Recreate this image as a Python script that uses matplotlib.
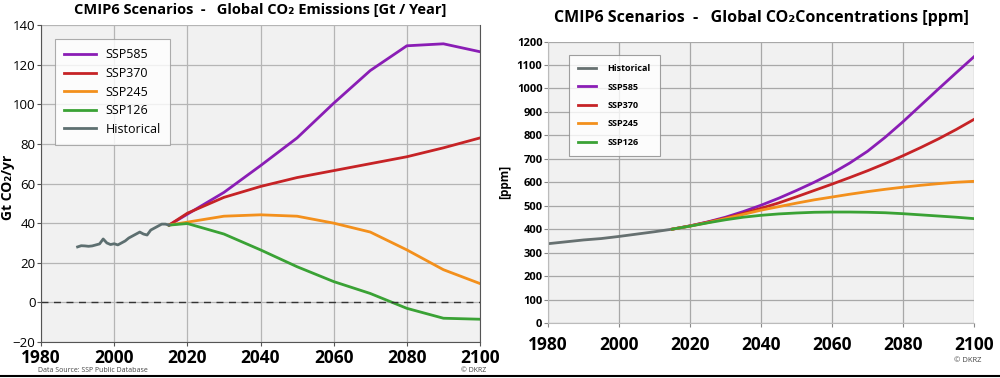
import numpy as np
import matplotlib.pyplot as plt
from matplotlib.lines import Line2D

plt.rcParams['font.family'] = ['Open Sans', 'DejaVu Sans']

# emissions [Gt CO2 / yr]
hist_years = np.arange(1990, 2016)
hist_emis = [28.0, 28.6, 28.5, 28.3, 28.5, 29.0, 29.5, 32.0, 30.0, 29.2,
             29.6, 29.0, 30.0, 31.0, 32.5, 33.5, 34.5, 35.5, 34.5, 34.0,
             36.5, 37.5, 38.5, 39.5, 39.5, 39.0]
scen_years = [2015, 2020, 2030, 2040, 2050, 2060, 2070, 2080, 2090, 2100]
emis_585 = [39, 44.5, 55.5, 69, 83, 100.5, 117, 129.5, 130.5, 126.5]
emis_370 = [39, 45, 53, 58.5, 63, 66.5, 70, 73.5, 78, 83]
emis_245 = [39, 40.5, 43.5, 44.2, 43.5, 40, 35.5, 26.5, 16.5, 9.5]
emis_126 = [39, 39.8, 34.5, 26.5, 18, 10.5, 4.5, -3, -8, -8.5]

# concentrations [ppm]
hist_c_years = [1980, 1985, 1990, 1995, 2000, 2005, 2010, 2015]
hist_conc = [338, 346, 354, 360, 369, 379, 389, 400]
conc_years = [2015, 2020, 2025, 2030, 2035, 2040, 2045, 2050, 2055, 2060,
              2065, 2070, 2075, 2080, 2085, 2090, 2095, 2100]
conc_585 = [400, 414, 431, 451, 475, 502, 532, 565, 600, 638,
            682, 732, 792, 858, 928, 998, 1067, 1135]
conc_370 = [400, 414, 430, 447, 467, 489, 512, 538, 565, 592,
            620, 649, 680, 713, 748, 785, 825, 868]
conc_245 = [400, 413, 428, 445, 463, 481, 496, 511, 525, 537,
            549, 560, 570, 579, 587, 594, 600, 604]
conc_126 = [400, 413, 427, 440, 451, 459, 465, 469, 472, 473,
            473, 472, 470, 466, 461, 456, 451, 445]

names = ['SSP585', 'SSP370', 'SSP245', 'SSP126']
colors = ['#8a1db5', '#c62326', '#f3901c', '#3aa235']

fig = plt.figure(figsize=(10, 3.78), dpi=100)

# ---------------- left panel: emissions
ax1 = fig.add_axes([0.041, 0.0952, 0.439, 0.8387])
ax1.set_facecolor('#f1f1f1')
for name, ys, c in zip(names, [emis_585, emis_370, emis_245, emis_126], colors):
    ax1.plot(scen_years, ys, color=c, lw=2, label=name)
ax1.plot(hist_years, hist_emis, color='#5d6f70', lw=2, label='Historical')
ax1.axhline(0, color='#333333', lw=1, ls=(0, (5, 4)))
ax1.set_xlim(1980, 2100)
ax1.set_ylim(-20, 140)
ax1.set_xticks(range(1980, 2101, 20))
ax1.set_yticks(range(-20, 141, 20))
ax1.grid(True, color='#b5b5b5', lw=0.9)
ax1.set_axisbelow(True)
ax1.spines['top'].set_visible(False)
for s in ['left', 'bottom', 'right']:
    ax1.spines[s].set_color('#555555')
ax1.tick_params(axis='x', labelsize=12.5, length=3, color='#555555', pad=2)
ax1.tick_params(axis='y', labelsize=9.5, length=3, color='#555555', pad=1)
for t in ax1.get_xticklabels():
    t.set_fontweight('bold')
fig.text(0.008, 0.504, 'Gt CO₂/yr', fontsize=10, fontweight='bold',
         rotation=90, ha='center', va='center')
ax1.set_title('CMIP6 Scenarios  -   Global CO₂ Emissions [Gt / Year]',
              fontsize=10.5, fontweight='bold', pad=8)
leg1 = ax1.legend(loc='upper left', bbox_to_anchor=(0.032, 0.956), fontsize=9,
                  frameon=True, fancybox=False, edgecolor='#999999',
                  handlelength=2.5, borderpad=0.75, labelspacing=0.45,
                  handletextpad=0.8, borderaxespad=0)
leg1.get_frame().set_linewidth(0.8)

# ---------------- right panel: concentrations
ax2 = fig.add_axes([0.548, 0.1455, 0.426, 0.7447])
ax2.set_facecolor('#f1f1f1')
ax2.plot(hist_c_years, hist_conc, color='#667070', lw=2, label='Historical')
for name, ys, c in zip(names, [conc_585, conc_370, conc_245, conc_126], colors):
    ax2.plot(conc_years, ys, color=c, lw=2, label=name)
ax2.set_xlim(1980, 2100)
ax2.set_ylim(0, 1200)
ax2.set_xticks(range(1980, 2101, 20))
ax2.set_yticks(range(0, 1201, 100))
ax2.grid(True, color='#a8a8a8', lw=0.9)
ax2.set_axisbelow(True)
for s in ['top', 'right']:
    ax2.spines[s].set_visible(False)
ax2.spines['left'].set_color('#bbbbbb')
ax2.spines['bottom'].set_color('#bbbbbb')
ax2.tick_params(axis='x', labelsize=12.5, length=3, color='#888888', pad=6)
ax2.tick_params(axis='y', labelsize=8, length=3, color='#888888', pad=1)
for t in ax2.get_xticklabels() + ax2.get_yticklabels():
    t.set_fontweight('bold')
ax2.set_ylabel('[ppm]', fontsize=8.5, fontweight='bold', labelpad=4)
ax2.set_title('CMIP6 Scenarios  -   Global CO₂Concentrations [ppm]',
              fontsize=11.5, fontweight='bold', pad=14)
leg2 = ax2.legend(loc='upper left', bbox_to_anchor=(0.049, 0.952),
                  prop={'size': 6.5, 'weight': 'bold'},
                  frameon=True, fancybox=False, edgecolor='#888888',
                  handlelength=2.0, borderpad=1.0, labelspacing=1.05,
                  handletextpad=1.3, borderaxespad=0)
leg2.get_frame().set_linewidth(0.8)

# footer
fig.text(0.038, 0.016, 'Data Source: SSP Public Database', fontsize=5, color='#444444')
fig.text(0.486, 0.016, '© DKRZ', fontsize=5, color='#444444', ha='right')
fig.text(0.981, 0.042, '© DKRZ', fontsize=5.5, color='#444444', ha='right')
fig.add_artist(Line2D([0, 1], [0.006, 0.006], color='black', lw=1.5))

fig.savefig('out.png', dpi=100)
